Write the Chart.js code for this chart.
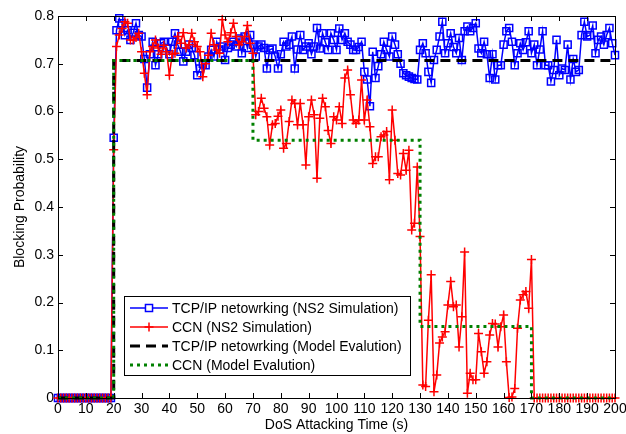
<!DOCTYPE html>
<html>
<head>
<meta charset="utf-8">
<script src="https://cdn.jsdelivr.net/npm/chart.js@4.4.1/dist/chart.umd.min.js"></script>
<style>
  html, body { margin: 0; padding: 0; background: #fff; }
  #wrap { width: 626px; height: 434px; }
</style>
</head>
<body>
<div id="wrap"><canvas id="chart" width="626" height="434"></canvas></div>
<script>
// one sample per second, starting at t = 0
const startTime = 0;

// TCP/IP networking, NS2 simulation
const tcpSim = [
  0, 0, 0, 0, 0, 0, 0, 0, 0, 0,
  0, 0, 0, 0, 0, 0, 0, 0, 0, 0,
  0.545, 0.77, 0.795, 0.785, 0.76, 0.77, 0.75, 0.765, 0.785, 0.76,
  0.757, 0.71, 0.65, 0.72, 0.746, 0.697, 0.72, 0.743, 0.746, 0.733,
  0.72, 0.746, 0.764, 0.74, 0.725, 0.705, 0.725, 0.74, 0.733, 0.718,
  0.676, 0.69, 0.7, 0.697, 0.715, 0.729, 0.715, 0.746, 0.73, 0.736,
  0.708, 0.733, 0.74, 0.746, 0.736, 0.753, 0.722, 0.757, 0.733, 0.76,
  0.74, 0.715, 0.736, 0.74, 0.733, 0.69, 0.729, 0.732, 0.715, 0.69,
  0.72, 0.746, 0.736, 0.74, 0.757, 0.69, 0.73, 0.76, 0.729, 0.736,
  0.743, 0.72, 0.736, 0.775, 0.732, 0.764, 0.745, 0.729, 0.764, 0.75,
  0.729, 0.774, 0.75, 0.764, 0.746, 0.74, 0.729, 0.729, 0.735, 0.746,
  0.683, 0.667, 0.611, 0.725, 0.67, 0.695, 0.72, 0.746, 0.729, 0.715,
  0.757, 0.74, 0.72, 0.7, 0.68, 0.676, 0.673, 0.67, 0.668, 0.667,
  0.729, 0.743, 0.722, 0.683, 0.66, 0.708, 0.729, 0.757, 0.788, 0.722,
  0.743, 0.764, 0.735, 0.722, 0.754, 0.708, 0.768, 0.778, 0.768, 0.775,
  0.785, 0.732, 0.722, 0.746, 0.72, 0.67, 0.72, 0.667, 0.697, 0.697,
  0.74, 0.768, 0.775, 0.746, 0.697, 0.722, 0.743, 0.729, 0.745, 0.768,
  0.722, 0.74, 0.697, 0.73, 0.768, 0.697, 0.697, 0.663, 0.687, 0.75,
  0.676, 0.69, 0.687, 0.74, 0.667, 0.71, 0.683, 0.687, 0.76, 0.788,
  0.757, 0.76, 0.78, 0.722, 0.75, 0.757, 0.74, 0.76, 0.775, 0.743,
  0.718
];

// CCN, NS2 simulation
const ccnSim = [
  0, 0, 0, 0, 0, 0, 0, 0, 0, 0,
  0, 0, 0, 0, 0, 0, 0, 0, 0, 0,
  0.52, 0.736, 0.76, 0.774, 0.788, 0.785, 0.75, 0.75, 0.755, 0.764,
  0.725, 0.68, 0.635, 0.725, 0.736, 0.75, 0.733, 0.72, 0.739, 0.725,
  0.676, 0.72, 0.722, 0.757, 0.743, 0.765, 0.733, 0.74, 0.764, 0.746,
  0.736, 0.725, 0.673, 0.7, 0.718, 0.764, 0.74, 0.729, 0.722, 0.792,
  0.76, 0.746, 0.765, 0.785, 0.757, 0.74, 0.746, 0.757, 0.78, 0.743,
  0.722, 0.593, 0.6, 0.628, 0.607, 0.589, 0.53, 0.572, 0.575, 0.59,
  0.603, 0.523, 0.533, 0.579, 0.624, 0.617, 0.572, 0.617, 0.572, 0.488,
  0.589, 0.624, 0.593, 0.46, 0.586, 0.628, 0.61, 0.56, 0.533, 0.589,
  0.582, 0.61, 0.575, 0.67, 0.687, 0.635, 0.582, 0.575, 0.582, 0.666,
  0.582, 0.624, 0.568, 0.491, 0.505, 0.505, 0.547, 0.551, 0.558, 0.457,
  0.603, 0.54, 0.47, 0.467, 0.512, 0.477, 0.519, 0.352, 0.366, 0.484,
  0.338, 0.027, 0.024, 0.163, 0.258, 0.013, 0.048, 0.115, 0.128, 0.139,
  0.195, 0.244, 0.191, 0.195, 0.107, 0.17, 0.306, 0.01, 0.052, 0.038,
  0.038, 0.135, 0.097, 0.052, 0.076, 0.132, 0.156, 0.155, 0.107, 0.149,
  0.174, 0.076, 0.001, 0.002, 0.02, 0.146, 0.205, 0.216, 0.223, 0.188,
  0.29, 0, 0, 0, 0, 0, 0, 0, 0, 0,
  0, 0, 0, 0, 0, 0, 0, 0, 0, 0,
  0, 0, 0, 0, 0, 0, 0, 0, 0, 0,
  0
];

// model evaluation (step curves)
const modelTimes = [0, 20, 20, 70, 70, 130, 130, 170, 170, 200];
const tcpModel   = [0, 0, 0.707, 0.707, 0.707, 0.707, 0.707, 0.707, 0.707, 0.707];
const ccnModel   = [0, 0, 0.707, 0.707, 0.54, 0.54, 0.15, 0.15, 0, 0];

const seriesLabels = [
  'TCP/IP netowrking (NS2 Simulation)',
  'CCN (NS2 Simulation)',
  'TCP/IP netowrking (Model Evalution)',
  'CCN (Model Evalution)'
];

const FONT = '"Liberation Sans", Arial, sans-serif';

function perSecond(values) {
  return values.map((v, i) => ({ x: startTime + i, y: v }));
}
function steps(times, values) {
  return times.map((t, i) => ({ x: t, y: values[i] }));
}

// inward tick marks + box, like the matlab axes
const boxTicks = {
  id: 'boxTicks',
  afterDraw(chart) {
    const { ctx, chartArea: a, scales } = chart;
    const len = 5;
    ctx.save();
    ctx.strokeStyle = '#000';
    ctx.lineWidth = 1;
    ctx.beginPath();
    scales.x.ticks.forEach(t => {
      const px = Math.round(scales.x.getPixelForValue(t.value)) + 0.5;
      ctx.moveTo(px, a.bottom); ctx.lineTo(px, a.bottom - len);
      ctx.moveTo(px, a.top); ctx.lineTo(px, a.top + len);
    });
    scales.y.ticks.forEach(t => {
      const py = Math.round(scales.y.getPixelForValue(t.value)) + 0.5;
      ctx.moveTo(a.left, py); ctx.lineTo(a.left + len, py);
      ctx.moveTo(a.right, py); ctx.lineTo(a.right - len, py);
    });
    ctx.stroke();
    ctx.strokeRect(Math.round(a.left) + 0.5, Math.round(a.top) + 0.5,
                   Math.round(a.right - a.left), Math.round(a.bottom - a.top));
    ctx.restore();
  }
};

// legend box inside the plot, lower left
const innerLegend = {
  id: 'innerLegend',
  afterDraw(chart) {
    const ctx = chart.ctx;
    const bx = 124, by = 296, bw = 286, bh = 79;
    ctx.save();
    ctx.fillStyle = '#fff';
    ctx.fillRect(bx, by, bw, bh);
    ctx.strokeStyle = '#000';
    ctx.lineWidth = 1;
    ctx.setLineDash([]);
    ctx.strokeRect(bx + 0.5, by + 0.5, bw, bh);
    ctx.font = '14px ' + FONT;
    ctx.textBaseline = 'middle';
    chart.data.datasets.forEach((ds, i) => {
      const y = by + 12 + i * 19;
      ctx.strokeStyle = ds.borderColor;
      ctx.lineWidth = ds.borderWidth;
      ctx.setLineDash(ds.borderDash || []);
      ctx.beginPath();
      ctx.moveTo(130, y); ctx.lineTo(168, y);
      ctx.stroke();
      ctx.setLineDash([]);
      if (ds.pointRadius > 0) {
        ctx.lineWidth = ds.pointBorderWidth;
        Chart.helpers.drawPoint(ctx, {
          pointStyle: ds.pointStyle, radius: ds.pointRadius,
          rotation: 0, borderWidth: ds.pointBorderWidth
        }, 149, y);
      }
      ctx.fillStyle = '#000';
      ctx.fillText(ds.label, 172, y + 1);
    });
    ctx.restore();
  }
};

new Chart(document.getElementById('chart'), {
  type: 'line',
  data: {
    datasets: [
      {
        label: seriesLabels[0],
        data: perSecond(tcpSim),
        borderColor: '#0000ff',
        backgroundColor: 'rgba(0,0,0,0)',
        borderWidth: 1.5,
        pointStyle: 'rect',
        pointRadius: 5,
        pointBorderWidth: 1.5,
        pointBorderColor: '#0000ff',
        pointBackgroundColor: 'rgba(0,0,0,0)',
        order: 4,
        clip: 10
      },
      {
        label: seriesLabels[1],
        data: perSecond(ccnSim),
        borderColor: '#ff0000',
        backgroundColor: 'rgba(0,0,0,0)',
        borderWidth: 1.5,
        pointStyle: 'cross',
        pointRadius: 4.5,
        pointBorderWidth: 1.5,
        pointBorderColor: '#ff0000',
        order: 3,
        clip: 10
      },
      {
        label: seriesLabels[2],
        data: steps(modelTimes, tcpModel),
        borderColor: '#000000',
        borderWidth: 3,
        borderDash: [10, 6],
        pointRadius: 0,
        order: 2,
        clip: 10
      },
      {
        label: seriesLabels[3],
        data: steps(modelTimes, ccnModel),
        borderColor: '#008000',
        borderWidth: 3,
        borderDash: [3, 4],
        pointRadius: 0,
        order: 1,
        clip: 10
      }
    ]
  },
  options: {
    responsive: false,
    animation: false,
    devicePixelRatio: 1,
    layout: { padding: { top: 16, right: 11, left: 0, bottom: 0 } },
    plugins: {
      legend: { display: false },
      tooltip: { enabled: false }
    },
    scales: {
      x: {
        type: 'linear',
        min: 0,
        max: 200,
        grid: { display: false, drawTicks: false },
        border: { display: false },
        ticks: {
          stepSize: 10,
          autoSkip: false,
          maxRotation: 0,
          padding: 3,
          color: '#000',
          font: { family: FONT, size: 14 }
        },
        title: {
          display: true,
          text: 'DoS Attacking Time (s)',
          color: '#000',
          font: { family: FONT, size: 14 },
          padding: { top: 0, bottom: 0 }
        },
        afterFit(scale) {
          scale.height = 36;
          scale.paddingLeft = 0;
          scale.paddingRight = 0;
        }
      },
      y: {
        min: 0,
        max: 0.8,
        grid: { display: false, drawTicks: false },
        border: { display: false },
        ticks: {
          stepSize: 0.1,
          padding: 4,
          color: '#000',
          font: { family: FONT, size: 14 }
        },
        title: {
          display: true,
          text: 'Blocking Probability',
          color: '#000',
          font: { family: FONT, size: 14 },
          padding: { top: 12, bottom: 0 }
        },
        afterFit(scale) {
          scale.width = 58;
          scale.paddingTop = 0;
          scale.paddingBottom = 0;
        }
      }
    }
  },
  plugins: [boxTicks, innerLegend]
});
</script>
</body>
</html>
